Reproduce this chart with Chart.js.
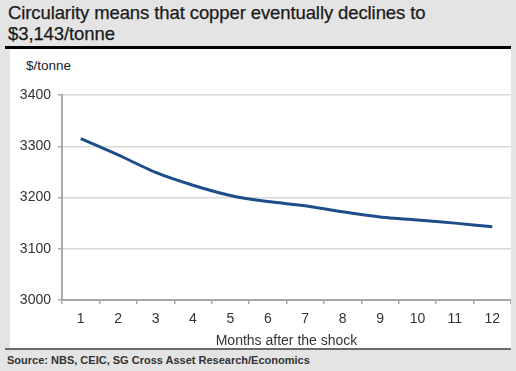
<!DOCTYPE html>
<html>
<head>
<meta charset="utf-8">
<script src="https://cdn.jsdelivr.net/npm/chart.js@4"></script>
<style>
  html, body { margin:0; padding:0; }
  body { width:516px; height:371px; background:#e4e4e4; position:relative; overflow:hidden; font-family:"Liberation Sans", Arial, sans-serif; }
  #title { position:absolute; left:8px; top:2px; font-size:18.5px; line-height:21px; color:#1a1a1a; letter-spacing:-0.1px; -webkit-text-stroke:0.25px #1a1a1a; }
  #topbar { position:absolute; left:5px; top:46px; width:506px; height:3px; background:#000; }
  #panel { position:absolute; left:10px; top:49px; width:501px; height:299px; background:#fff; }
  #botline { position:absolute; left:5px; top:348px; width:506px; height:1.5px; background:#6a6a6a; }
  #source { position:absolute; left:7px; top:354px; font-size:11px; font-weight:bold; color:#333; }
  #ytitle { position:absolute; left:26px; top:58px; font-size:13.5px; color:#222; }
  #wrap { position:absolute; left:10px; top:49px; width:501px; height:299px; }
</style>
</head>
<body>
<div id="title">Circularity means that copper eventually declines to<br>$3,143/tonne</div>
<div id="topbar"></div>
<div id="panel"></div>
<div id="botline"></div>
<div id="ytitle">$/tonne</div>
<div id="source">Source: NBS, CEIC, SG Cross Asset Research/Economics</div>
<div id="wrap"><canvas id="c" width="501" height="299"></canvas></div>
<script>
const months = ["1","2","3","4","5","6","7","8","9","10","11","12"];
const copperPrice = [3315, 3283, 3249, 3224, 3204, 3192, 3184, 3172, 3162, 3156, 3150, 3143];
const yTicks = [3000, 3100, 3200, 3300, 3400];
const xTitle = "Months after the shock";

new Chart(document.getElementById('c'), {
  type: 'line',
  data: {
    labels: months,
    datasets: [{
      data: copperPrice,
      borderColor: '#1f4d8c',
      borderWidth: 3,
      pointRadius: 0,
      tension: 0.2,
      fill: false
    }]
  },
  options: {
    responsive: false,
    animation: false,
    devicePixelRatio: 1,
    layout: { padding: { top: 46, right: 0, bottom: 0, left: 0 } },
    plugins: { legend: { display: false }, tooltip: { enabled: false } },
    scales: {
      x: {
        offset: true,
        grid: { display: true, offset: true, drawOnChartArea: false, tickLength: 4, color: '#a8a8a8', lineWidth: 1.5 },
        border: { display: true, color: '#a8a8a8', width: 2 },
        ticks: { color: '#333', font: { family: 'Liberation Sans', size: 14 }, padding: 7, maxRotation: 0, autoSkip: false },
        title: { display: true, text: xTitle, color: '#333', font: { family: 'Liberation Sans', size: 14, lineHeight: 1 }, padding: { top: 0, bottom: 0 } },
        afterFit: s => { s.height = 48; }
      },
      y: {
        min: yTicks[0],
        max: yTicks[yTicks.length - 1],
        afterBuildTicks: s => { s.ticks = yTicks.map(v => ({ value: v })); },
        grid: { color: '#d9d9d9', lineWidth: 1.5, tickLength: 4, tickColor: '#a8a8a8' },
        border: { display: true, color: '#a8a8a8', width: 2 },
        ticks: { color: '#333', font: { family: 'Liberation Sans', size: 14 }, padding: 7, callback: v => String(v) },
        afterFit: s => { s.width = 52; }
      }
    }
  }
});
</script>
</body>
</html>
